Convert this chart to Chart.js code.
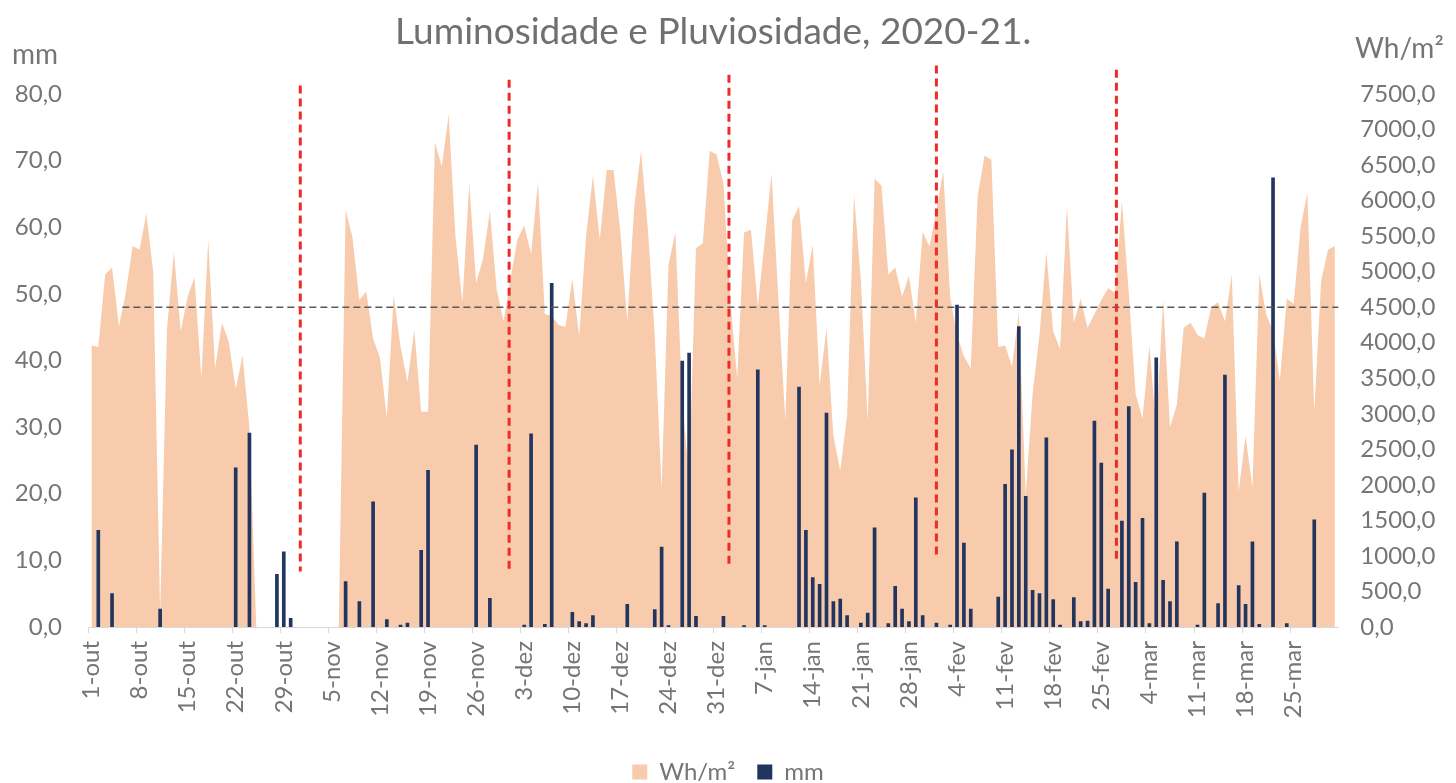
<!DOCTYPE html>
<html>
<head>
<meta charset="utf-8">
<title>Luminosidade e Pluviosidade, 2020-21.</title>
<script src="https://cdn.jsdelivr.net/npm/chart.js@4/dist/chart.umd.min.js"></script>
<style>
	html, body { margin: 0; padding: 0; background: #ffffff; }
	canvas { display: block; }
</style>
</head>
<body>
<canvas id="grafico" width="1456" height="783"></canvas>
<script>
// meses da estação (out 2020 - mar 2021)
var meses = ["out", "nov", "dez", "jan", "fev", "mar"];
var diasMes = [31, 30, 31, 31, 28, 31];

// luminosidade diária, Wh/m2
var luz = [
	3960, 3940, 4960, 5060, 4230, 4700, 5360, 5310, 5820, 4990,
	200, 4200, 5280, 4160, 4650, 4920, 3500, 5450, 3640, 4280,
	4010, 3350, 3820, 2800, 0, 0, 0, 0, 0, 0,
	0, 0, 0, 0, 0, 0, 0, 5870, 5480, 4600,
	4720, 4060, 3790, 2940, 4670, 3940, 3450, 4180, 3030, 3030,
	6820, 6480, 7210, 5480, 4570, 6240, 4840, 5180, 5850, 4740,
	4300, 4900, 5450, 5650, 5250, 6260, 4400, 4380, 4250, 4220,
	4900, 4090, 5500, 6350, 5450, 6430, 6430, 5550, 4300, 5900,
	6700, 5600, 4100, 1950, 5100, 5550, 3200, 2100, 5330, 5400,
	6700, 6650, 6240, 4600, 3500, 5550, 5590, 4520, 5430, 6380,
	4600, 2910, 5720, 5920, 4840, 5380, 3400, 4200, 2690, 2200,
	2980, 6090, 4890, 2910, 6310, 6210, 4960, 5060, 4650, 4940,
	4280, 5560, 5350, 5870, 6410, 4650, 4110, 3810, 3640, 6060,
	6630, 6580, 3940, 3960, 3670, 4430, 1860, 3280, 4110, 5280,
	4160, 3910, 5920, 4280, 4620, 4210, 4400, 4600, 4770, 4700,
	5990, 4700, 3280, 2930, 3960, 2800, 4600, 2810, 3130, 4210,
	4280, 4110, 4060, 4500, 4570, 4300, 4960, 1910, 2690, 1960,
	4960, 4400, 4160, 3470, 4620, 4550, 5620, 6110, 3030, 4870,
	5310, 5360
];

// dias com chuva (índice do dia desde 1-out) e precipitação, mm
var chuvaDia = [
	1, 3, 10, 21, 23, 27, 28, 29, 37, 39, 41, 43, 45, 46, 48, 49, 56, 58,
	63, 64, 66, 67, 70, 71, 72, 73, 78, 82, 83, 84, 86, 87, 88,
	92, 95, 97, 98, 103, 104, 105, 106, 107, 108, 109, 110, 112, 113, 114,
	116, 117, 118, 119, 120, 121, 123, 125, 126, 127, 128, 132, 133, 134,
	135, 136, 137, 138, 139, 140, 141, 143, 144, 145, 146, 147, 148, 150,
	151, 152, 153, 154, 155, 156, 157, 158, 161, 162, 164, 165, 167, 168,
	169, 170, 172, 174, 178
];
var chuvaMm = [
	14.5, 5.0, 2.7, 23.9, 29.1, 7.9, 11.3, 1.3, 6.8, 3.8, 18.8, 1.1, 0.3, 0.6, 11.5, 23.5, 27.3, 4.3,
	0.3, 29.0, 0.4, 51.6, 2.2, 0.8, 0.5, 1.7, 3.4, 2.6, 12.0, 0.2, 39.9, 41.1, 1.6,
	1.6, 0.2, 38.6, 0.2, 36.0, 14.5, 7.4, 6.4, 32.1, 3.8, 4.2, 1.7, 0.6, 2.1, 14.9,
	0.5, 6.1, 2.7, 0.8, 19.4, 1.7, 0.6, 0.3, 48.3, 12.6, 2.7, 4.5, 21.4, 26.6,
	45.1, 19.6, 5.5, 5.0, 28.4, 4.1, 0.3, 4.4, 0.8, 0.9, 30.9, 24.6, 5.7, 15.9,
	33.1, 6.7, 16.3, 0.5, 40.4, 7.0, 3.8, 12.8, 0.3, 20.1, 3.5, 37.8, 6.2, 3.4,
	12.8, 0.4, 67.4, 0.5, 16.1
];

// linha de referência (Wh/m2) e dia a partir do qual é traçada
var referencia = [4500];
var referenciaInicio = [4.5];

// marcas verticais vermelhas: dia, topo e base (Wh/m2)
var marcaDia = [30.4, 60.8, 92.8, 123.0, 149.2];
var marcaTopo = [7620, 7700, 7770, 7900, 7840];
var marcaBase = [780, 790, 860, 1000, 940];

var cinza = "#757575";

function Categorias() {
	var out = [];
	for (var m = 0; m < meses.length; m++) {
		for (var d = 1; d <= diasMes[m]; d++) {
			out.push(d + "-" + meses[m]);
		}
	}
	return out;
}

function SerieChuva(n) {
	var out = [];
	for (var i = 0; i < n; i++) out.push(null);
	for (var k = 0; k < chuvaDia.length; k++) out[chuvaDia[k]] = chuvaMm[k];
	return out;
}

function Virgula(v) {
	return Number(v).toFixed(1).replace(".", ",");
}

var marcas = {
	id: "marcas",
	afterDatasetsDraw: function (chart) {
		var ctx = chart.ctx;
		var x = chart.scales.x;
		var y1 = chart.scales.y1;
		var area = chart.chartArea;

		ctx.save();
		// linha tracejada de referência
		ctx.strokeStyle = "#595959";
		ctx.lineWidth = 1.5;
		ctx.setLineDash([7, 4]);
		var yr = y1.getPixelForValue(referencia[0]);
		ctx.beginPath();
		ctx.moveTo(x.getPixelForValue(referenciaInicio[0]), yr);
		ctx.lineTo(area.right, yr);
		ctx.stroke();

		// separadores de mês
		ctx.strokeStyle = "#ee2b2b";
		ctx.lineWidth = 3;
		ctx.setLineDash([8, 5]);
		for (var i = 0; i < marcaDia.length; i++) {
			var px = x.getPixelForValue(marcaDia[i]);
			ctx.beginPath();
			ctx.moveTo(px, y1.getPixelForValue(marcaTopo[i]));
			ctx.lineTo(px, y1.getPixelForValue(marcaBase[i]));
			ctx.stroke();
		}
		ctx.restore();

		// unidades dos eixos
		ctx.save();
		ctx.fillStyle = cinza;
		ctx.font = "28px Lato, 'Open Sans', sans-serif";
		ctx.textBaseline = "alphabetic";
		ctx.textAlign = "left";
		ctx.fillText("mm", 12, 64);
		ctx.fillText("Wh/m²", 1355, 58);
		ctx.restore();
	},
};

Chart.defaults.font.family = "Lato, 'Open Sans', sans-serif";
Chart.defaults.color = cinza;

var categorias = Categorias();

var grafico = new Chart(document.getElementById("grafico"), {
	type: "bar",
	data: {
		labels: categorias,
		datasets: [
			{
				type: "bar",
				label: "mm",
				data: SerieChuva(categorias.length),
				backgroundColor: "#22355f",
				borderWidth: 0,
				barThickness: 3,
				yAxisID: "y",
			},
			{
				type: "line",
				label: "Wh/m²",
				data: luz,
				backgroundColor: "#f8cbad",
				borderColor: "#f8cbad",
				borderWidth: 0,
				pointRadius: 0,
				tension: 0,
				fill: "origin",
				yAxisID: "y1",
			},
		],
	},
	options: {
		responsive: false,
		animation: false,
		layout: {
			padding: { top: 0, left: 0, right: 0, bottom: -11 },
		},
		plugins: {
			title: {
				display: true,
				text: "Luminosidade e Pluviosidade, 2020-21.",
				fullSize: false,
				color: "#707070",
				font: { size: 37, weight: "normal" },
				padding: { top: 10, bottom: 39.6 },
			},
			legend: {
				display: true,
				position: "bottom",
				labels: {
					boxWidth: 15,
					boxHeight: 15,
					padding: 22,
					color: cinza,
					font: { size: 24 },
					sort: function (a, b) {
						return b.datasetIndex - a.datasetIndex;
					},
				},
			},
			tooltip: { enabled: false },
		},
		scales: {
			x: {
				afterFit: function (s) {
					s.height = 111;
				},
				border: { display: true, color: "#d9d9d9", width: 1 },
				grid: {
					drawOnChartArea: false,
					drawTicks: true,
					tickLength: 6,
					color: function (c) {
						return c.index % 7 === 0 ? "#d9d9d9" : "rgba(0,0,0,0)";
					},
				},
				ticks: {
					autoSkip: false,
					maxRotation: 90,
					minRotation: 90,
					padding: 8,
					font: { size: 24 },
					color: cinza,
					callback: function (v, i) {
						return i % 7 === 0 ? this.getLabelForValue(v) : "";
					},
				},
			},
			y: {
				position: "left",
				min: 0,
				max: 80,
				afterFit: function (s) {
					s.width = 88;
				},
				border: { display: false },
				grid: { display: false, drawTicks: false },
				ticks: {
					stepSize: 10,
					padding: 26,
					font: { size: 24 },
					color: cinza,
					callback: Virgula,
				},
			},
			y1: {
				position: "right",
				min: 0,
				max: 7500,
				afterFit: function (s) {
					s.width = 117.7;
				},
				border: { display: false },
				grid: { display: false, drawTicks: false },
				ticks: {
					stepSize: 500,
					padding: 22,
					font: { size: 24 },
					color: cinza,
					callback: Virgula,
				},
			},
		},
	},
	plugins: [marcas],
});
</script>
</body>
</html>
